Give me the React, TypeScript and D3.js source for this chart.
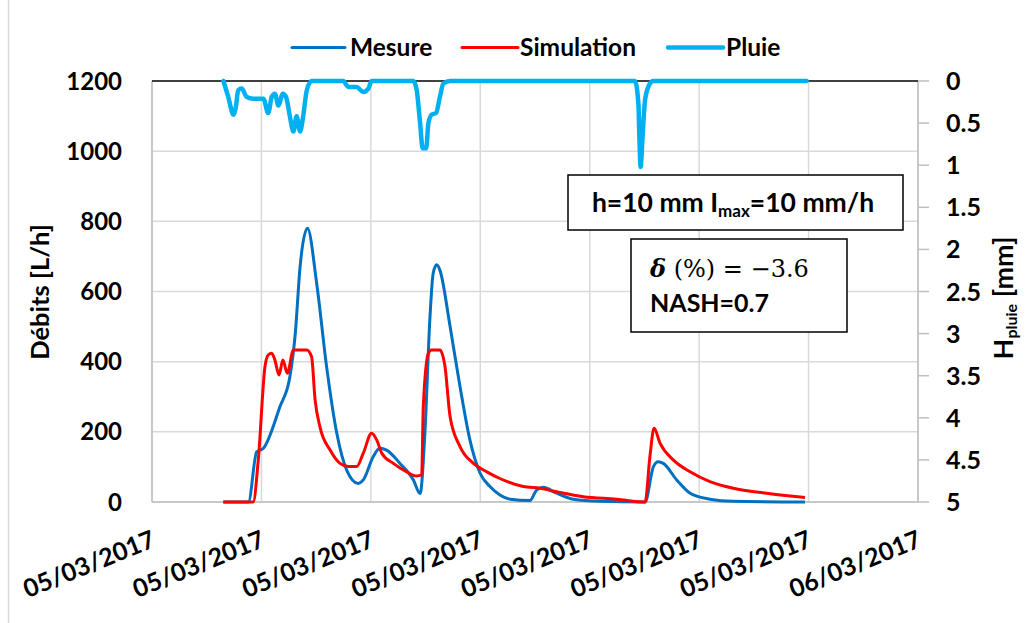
import React from "react";
import * as d3 from "d3";

// ---------- DATA (time in hours after 05/03/2017 00:00) ----------
const mesureHours = [2.23, 3.02, 3.28, 3.49, 4.01, 4.32, 4.49, 4.64, 4.87, 5.16, 5.47, 5.79, 6.10, 6.46, 6.62, 6.93, 7.14, 7.35, 7.77, 8.19, 8.40, 8.55, 8.71, 8.81, 8.92, 9.02, 9.34, 9.65, 9.96, 10.28, 10.59, 10.90, 11.22, 11.84, 12.05, 12.26, 12.68, 13.20, 14.04, 15.45, 15.71, 15.86, 16.02, 16.44, 16.86, 17.48, 18.20, 20.46];
const mesureValues = [0, 0, 143, 153, 272, 357, 481, 671, 780, 623, 386, 196, 91, 53, 63, 129, 153, 148, 110, 63, 24, 196, 528, 652, 676, 661, 500, 329, 177, 82, 44, 20, 8, 4, 34, 42, 25, 8, 2, 0, 101, 115, 110, 63, 25, 8, 2, 0];

const simHours = [2.24, 3.17, 3.33, 3.54, 3.64, 3.75, 3.85, 3.98, 4.10, 4.24, 4.43, 4.85, 5.00, 5.11, 5.26, 5.58, 5.89, 6.15, 6.41, 6.62, 6.88, 7.04, 7.20, 7.56, 7.98, 8.29, 8.45, 8.50, 8.66, 8.76, 9.02, 9.18, 9.34, 9.65, 10.07, 10.49, 10.90, 11.63, 12.16, 12.68, 13.51, 14.56, 15.45, 15.60, 15.73, 15.92, 16.33, 16.86, 17.48, 18.21, 19.26, 20.46];
const simValues = [0, 0, 120, 386, 419, 424, 405, 362, 405, 367, 433, 433, 414, 291, 215, 148, 110, 101, 101, 139, 196, 177, 139, 110, 86, 74, 77, 272, 424, 433, 433, 386, 243, 158, 110, 86, 67, 44, 39, 29, 15, 8, 0, 129, 210, 167, 120, 86, 58, 39, 25, 13];

const pluieHours = [2.24, 2.39, 2.55, 2.63, 2.70, 2.81, 2.97, 3.17, 3.49, 3.64, 3.75, 3.85, 3.96, 4.10, 4.20, 4.32, 4.43, 4.53, 4.64, 4.72, 4.85, 5.00, 5.99, 6.15, 6.41, 6.62, 6.78, 6.88, 8.19, 8.29, 8.40, 8.48, 8.59, 8.66, 8.76, 8.90, 9.02, 9.13, 9.34, 15.13, 15.24, 15.27, 15.31, 15.37, 15.45, 15.60, 15.70, 20.51];
const pluieValues = [0, 0.19, 0.40, 0.30, 0.11, 0.09, 0.19, 0.21, 0.21, 0.38, 0.19, 0.15, 0.29, 0.15, 0.19, 0.42, 0.60, 0.42, 0.60, 0.46, 0.11, 0, 0, 0.07, 0.07, 0.13, 0.09, 0, 0, 0.10, 0.50, 0.80, 0.80, 0.50, 0.40, 0.38, 0.19, 0.03, 0, 0, 0.27, 0.66, 1.02, 0.66, 0.22, 0.03, 0, 0];

const leftTicks = [0, 200, 400, 600, 800, 1000, 1200];
const rightTicks = [0, 0.5, 1, 1.5, 2, 2.5, 3, 3.5, 4, 4.5, 5];
const xTickHours = [0, 24 / 7, 48 / 7, 72 / 7, 96 / 7, 120 / 7, 144 / 7, 24];

const seriesNames = ["Mesure", "Simulation", "Pluie"];

// ---------- LAYOUT ----------
const W = 1027, H = 623;
const plot = { left: 152, right: 918, top: 81, bottom: 502 };
const FONT = "Lato, 'Open Sans', sans-serif";
const C_MES = "#0070C0", C_SIM = "#FF0000", C_PLU = "#00B0F0";
const FS = 25;

const t0 = new Date(2017, 2, 5, 0, 0, 0).getTime();
const toDate = (h: number) => new Date(t0 + h * 3600 * 1000);

export default function App() {
  const x = d3.scaleTime().domain([toDate(0), toDate(24)]).range([plot.left, plot.right]);
  const yL = d3.scaleLinear().domain([0, 1200]).range([plot.bottom, plot.top]);
  const yR = d3.scaleLinear().domain([0, 5]).range([plot.top, plot.bottom]);
  const fmt = d3.timeFormat("%d/%m/%Y");

  const lineL = d3.line<[number, number]>().x(d => x(toDate(d[0]))).y(d => yL(d[1])).curve(d3.curveMonotoneX);
  const lineR = d3.line<[number, number]>().x(d => x(toDate(d[0]))).y(d => yR(d[1])).curve(d3.curveMonotoneX);

  const mes = mesureHours.map((h, i) => [h, mesureValues[i]] as [number, number]);
  const sim = simHours.map((h, i) => [h, simValues[i]] as [number, number]);
  const plu = pluieHours.map((h, i) => [h, pluieValues[i]] as [number, number]);

  const legendItems = [
    { name: seriesNames[0], color: C_MES, x1: 292, x2: 345, tx: 350, w: 3 },
    { name: seriesNames[1], color: C_SIM, x1: 462, x2: 518, tx: 520, w: 3 },
    { name: seriesNames[2], color: C_PLU, x1: 668, x2: 723, tx: 726, w: 4.5 },
  ];

  return (
    <svg width={W} height={H} style={{ position: "absolute", left: 0, top: 0, background: "#fff" }} fontFamily={FONT}>
      <rect x={0} y={0} width={W} height={H} fill="#fff" />
      <line x1={8.5} x2={8.5} y1={0} y2={H} stroke="#D9D9D9" strokeWidth={1.5} />

      {/* gridlines */}
      {leftTicks.map(v => (
        <line key={"gy" + v} x1={plot.left} x2={plot.right} y1={yL(v)} y2={yL(v)} stroke="#D9D9D9" strokeWidth={1.5} />
      ))}
      {xTickHours.map((h, i) => (
        <line key={"gx" + i} x1={x(toDate(h))} x2={x(toDate(h))} y1={plot.top} y2={plot.bottom} stroke="#D9D9D9" strokeWidth={1.5} />
      ))}
      {/* axes lines */}
      <line x1={plot.left} x2={plot.right} y1={plot.bottom} y2={plot.bottom} stroke="#BFBFBF" strokeWidth={1.5} />
      <line x1={plot.left} x2={plot.left} y1={plot.top} y2={plot.bottom} stroke="#BFBFBF" strokeWidth={1.5} />
      <line x1={plot.right} x2={plot.right} y1={plot.top} y2={plot.bottom} stroke="#BFBFBF" strokeWidth={1.5} />
      {rightTicks.map(v => (
        <line key={"rt" + v} x1={plot.right} x2={plot.right + 11} y1={yR(v)} y2={yR(v)} stroke="#BFBFBF" strokeWidth={1.5} />
      ))}
      <line x1={plot.left} x2={plot.right} y1={plot.top} y2={plot.top} stroke="#404040" strokeWidth={2} />

      {/* series */}
      <path d={lineL(mes) || ""} fill="none" stroke={C_MES} strokeWidth={3} strokeLinejoin="round" />
      <path d={lineL(sim) || ""} fill="none" stroke={C_SIM} strokeWidth={3} strokeLinejoin="round" />
      <path d={lineR(plu) || ""} fill="none" stroke={C_PLU} strokeWidth={4.5} strokeLinejoin="round" strokeLinecap="round" />

      {/* left tick labels */}
      {leftTicks.map(v => (
        <text key={"lt" + v} x={122} y={yL(v)} dy="0.36em" textAnchor="end" fontSize={FS - 1} fontWeight="bold" fill="#000">{v}</text>
      ))}
      {/* right tick labels */}
      {rightTicks.map(v => (
        <text key={"rl" + v} x={946} y={yR(v)} dy="0.36em" textAnchor="start" fontSize={FS} fontWeight="bold" fill="#000">{v}</text>
      ))}
      {/* x tick labels */}
      {xTickHours.map((h, i) => {
        const px = x(toDate(h));
        return (
          <text key={"xl" + i} transform={`translate(${px + 5},546) rotate(-22)`} textAnchor="end" fontSize={FS} fontWeight="bold" fill="#000">
            {fmt(toDate(h))}
          </text>
        );
      })}

      {/* axis titles */}
      <text transform="translate(49,292) rotate(-90)" textAnchor="middle" fontSize={25.5} fontWeight="bold" fill="#000">Débits [L/h]</text>
      <text transform="translate(1013,298) rotate(-90)" textAnchor="middle" fontSize={27} fontWeight="bold" fill="#000">
        H<tspan fontSize={16} dy={4}>pluie</tspan><tspan dy={-4}> [mm]</tspan>
      </text>

      {/* legend */}
      {legendItems.map(l => (
        <g key={l.name}>
          <line x1={l.x1} x2={l.x2} y1={47.5} y2={47.5} stroke={l.color} strokeWidth={l.w} strokeLinecap="round" />
          <text x={l.tx} y={56} fontSize={FS - 0.5} fontWeight="bold" fill="#000">{l.name}</text>
        </g>
      ))}

      {/* text boxes */}
      <rect x={568} y={175} width={335} height={55} fill="#fff" stroke="#000" strokeWidth={1.5} />
      <text x={733} y={212} textAnchor="middle" fontSize={26.5} fontWeight="bold" fill="#000">
        h=10 mm I<tspan fontSize={17} dy={5}>max</tspan><tspan dy={-5}>=10 mm/h</tspan>
      </text>
      <rect x={631} y={239} width={216} height={93} fill="#fff" stroke="#000" strokeWidth={1.5} />
      <text x={650} y={277} fontSize={24} fontFamily="'DejaVu Serif', serif" fill="#000">
        <tspan fontStyle="italic" fontWeight="bold">δ</tspan> (%) = −3.6
      </text>
      <text x={650} y={312} fontSize={FS} fontWeight="bold" fill="#000">NASH=0.7</text>
    </svg>
  );
}
